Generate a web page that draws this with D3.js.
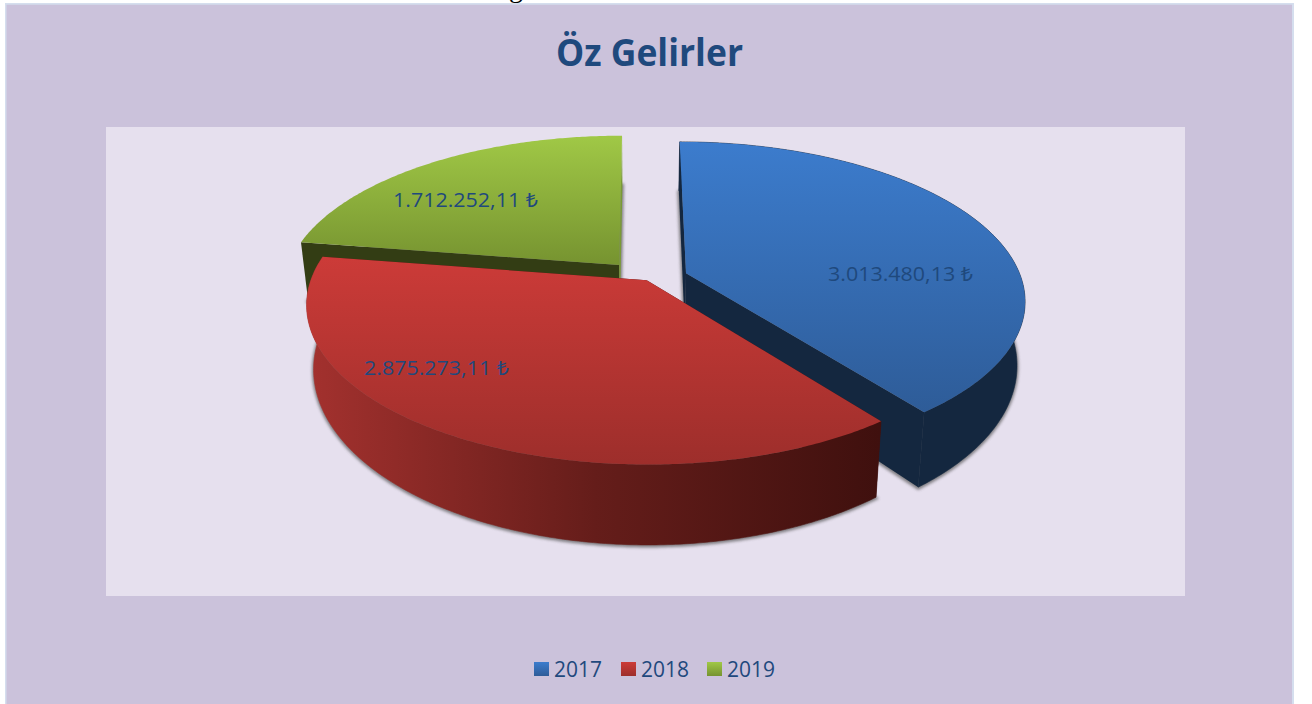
<!DOCTYPE html>
<html>
<head>
<meta charset="utf-8">
<script src="https://cdn.jsdelivr.net/npm/d3@7/dist/d3.min.js"></script>
<style>
html, body { margin: 0; padding: 0; background: #fff; overflow: hidden; }
svg { display: block; }
text { font-family: "Open Sans", "Noto Sans", sans-serif; fill: #1f497d; }
</style>
</head>
<body>
<div id="chart"></div>
<script>
// values
const years = ['2017', '2018', '2019'];
const income = [3013480.13, 2875273.11, 1712252.11];
const incomeLabels = ['3.013.480,13 ₺', '2.875.273,11 ₺', '1.712.252,11 ₺'];

const width = 1312, height = 704;

// fake 3d camera
const cam = { vx: 640, vy: 272, rx: 333, ry: 152, persp: 0.16, depth: 61, shrink: 0.021 };

// slice look, by year
const look = {
	'2017': { off: [0.138, 0.008], top: ['#3c7ccd', '#2e5c98'], topY: [142, 412], wall: ['#14273f', '#14273f'], side: ['#14273f', '#14273f'], label: [828, 281], key: 534, outer: true },
	'2018': { off: [0.02, 0.053], top: ['#cc3b38', '#9d2e2b'], topY: [257, 465], wall: ['#a3312e', '#3f100e'], side: ['#3f100e', '#3f100e'], label: [364, 375], key: 621, outer: true },
	// the outer wall of 2019 is all behind its top, its end face is only a sliver
	'2019': { off: [-0.063, -0.047], top: ['#a0c846', '#769330'], topY: [136, 265], wall: ['#333d14', '#333d14'], side: ['#333d14', '#7a9a35'], label: [393, 207], key: 707, outer: false }
};

const svg = d3.select('#chart').append('svg').attr('width', width).attr('height', height);
const defs = svg.append('defs');

defs.append('filter').attr('id', 'soft')
	.attr('x', '-10%').attr('y', '-10%').attr('width', '120%').attr('height', '120%')
	.append('feGaussianBlur').attr('stdDeviation', 1.5);

const colorOf = d3.scaleOrdinal().domain(years).range(years.map(y => look[y].top));

years.forEach(y => {
	const l = look[y];
	const top = defs.append('linearGradient').attr('id', 'top' + y).attr('gradientUnits', 'userSpaceOnUse')
		.attr('x1', 0).attr('x2', 0).attr('y1', l.topY[0]).attr('y2', l.topY[1]);
	top.append('stop').attr('offset', 0).attr('stop-color', l.top[0]);
	top.append('stop').attr('offset', 1).attr('stop-color', l.top[1]);

	const wall = defs.append('linearGradient').attr('id', 'wall' + y).attr('gradientUnits', 'userSpaceOnUse')
		.attr('x1', 310).attr('x2', 880).attr('y1', 0).attr('y2', 0);
	wall.append('stop').attr('offset', 0).attr('stop-color', l.wall[0]);
	wall.append('stop').attr('offset', 0.5).attr('stop-color', d3.interpolateRgb(l.wall[0], l.wall[1])(0.62));
	wall.append('stop').attr('offset', 1).attr('stop-color', l.wall[1]);

	const key = defs.append('linearGradient').attr('id', 'key' + y).attr('x1', 0).attr('x2', 0).attr('y1', 0).attr('y2', 1);
	key.append('stop').attr('offset', 0).attr('stop-color', colorOf(y)[0]);
	key.append('stop').attr('offset', 1).attr('stop-color', colorOf(y)[1]);
});

// background
svg.append('rect').attr('x', 5).attr('y', 3).attr('width', 1289).attr('height', height).attr('fill', '#d5deee');
svg.append('rect').attr('x', 6.5).attr('y', 4.7).attr('width', 1285.5).attr('height', height).attr('fill', '#cbc2db');
svg.append('rect').attr('x', 106).attr('y', 127).attr('width', 1079).attr('height', 469).attr('fill', '#e6e0ee');

// bit of the document line above the chart, cut by the crop
svg.append('text').attr('x', 509).attr('y', -3).style('font-family', '"Liberation Serif", serif')
	.style('font-size', '28px').style('fill', '#000').text('g');

// ground plane + height -> screen
function project(wx, wy, z) {
	const s = 1 / (1 - cam.persp * wy);
	let x = cam.vx + cam.rx * wx * s;
	let y = cam.vy + cam.ry * wy * s;
	if (z) {
		x = cam.vx + (x - cam.vx) * (1 - cam.shrink);
		y += cam.depth * Math.pow(s, 1.5);
	}
	return [x, y];
}

const line = d3.line().curve(d3.curveLinear);

function rimPoints(slice, z) {
	const off = look[slice.data.year].off;
	const n = Math.ceil((slice.endAngle - slice.startAngle) / 0.01);
	return d3.range(n + 1).map(i => {
		const t = slice.startAngle + (slice.endAngle - slice.startAngle) * i / n;
		return project(off[0] + Math.sin(t), off[1] - Math.cos(t), z);
	});
}

const pie = d3.pie().sort(null).value(d => d.value);
const slices = pie(years.map((year, i) => ({ year, value: income[i], label: incomeLabels[i] })));

// painter order, back to front
const order = ['2019', '2017', '2018'];
const plot = svg.append('g');

order.forEach(year => {
	const slice = slices.find(d => d.data.year === year);
	const off = look[year].off;
	const g = plot.append('g');
	const topRim = rimPoints(slice, 0);
	const botRim = rimPoints(slice, 1);
	const apexTop = project(off[0], off[1], 0);
	const apexBot = project(off[0], off[1], 1);

	// floor shadow
	g.append('path')
		.attr('d', line([apexBot, ...botRim]) + 'Z')
		.attr('transform', 'translate(0,1)')
		.attr('fill', '#555').attr('stroke', '#555').attr('stroke-width', 3)
		.attr('opacity', 0.7).attr('filter', 'url(#soft)');

	// the two cut faces
	[topRim[0], topRim[topRim.length - 1]].forEach((p, i) => {
		const q = i ? botRim[botRim.length - 1] : botRim[0];
		g.append('path')
			.attr('d', line([apexTop, p, q, apexBot]) + 'Z')
			.attr('fill', look[year].side[i]);
	});

	// outer wall
	if (look[year].outer) {
		g.append('path')
			.attr('d', line([...topRim, ...botRim.slice().reverse()]) + 'Z')
			.attr('fill', `url(#wall${year})`)
			.attr('stroke', `url(#wall${year})`).attr('stroke-width', 0.6);
	}

	// top face
	g.append('path')
		.attr('d', line([apexTop, ...topRim]) + 'Z')
		.attr('fill', `url(#top${year})`);
});

// value labels
plot.selectAll('text.value').data(slices).join('text')
	.attr('class', 'value')
	.attr('x', d => look[d.data.year].label[0])
	.attr('y', d => look[d.data.year].label[1])
	.attr('textLength', 145)
	.attr('lengthAdjust', 'spacingAndGlyphs')
	.style('font-size', '20px')
	.text(d => d.data.label);

// title
svg.append('text').attr('x', 556).attr('y', 66)
	.attr('textLength', 187).attr('lengthAdjust', 'spacingAndGlyphs')
	.style('font-size', '37px').style('font-weight', 700)
	.text('Öz Gelirler');

// legend
const legend = svg.append('g').selectAll('g').data(years).join('g')
	.attr('transform', d => `translate(${look[d].key},662)`);
legend.append('rect').attr('width', 15).attr('height', 14).attr('fill', d => `url(#key${d})`);
legend.append('text').attr('x', 20).attr('y', 15)
	.attr('textLength', 48).attr('lengthAdjust', 'spacingAndGlyphs')
	.style('font-size', '21px').text(d => d);
</script>
</body>
</html>
